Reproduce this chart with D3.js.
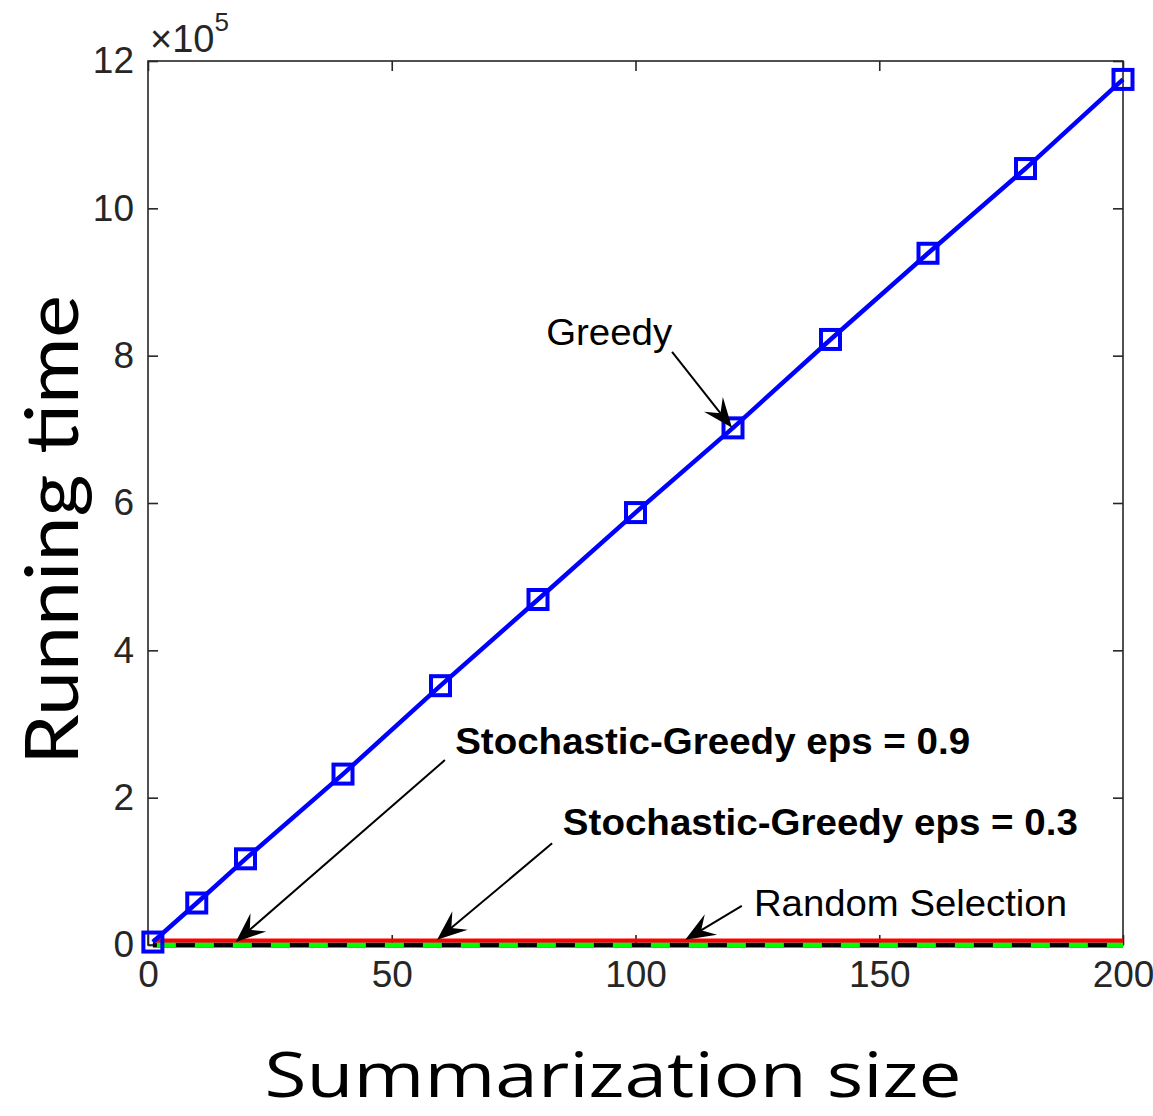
<!DOCTYPE html>
<html>
<head>
<meta charset="utf-8">
<script src="https://cdn.jsdelivr.net/npm/d3@7"></script>
<style>
  html, body { margin: 0; padding: 0; background: #fff; }
  svg { display: block; }
</style>
</head>
<body>
<svg id="chart" width="1153" height="1116"></svg>
<script>
// Running time (in units of 1e5) against summarization size
const greedySizes = [1, 10, 20, 40, 60, 80, 100, 120, 140, 160, 180, 200];
const greedyTime  = [0.04, 0.57, 1.17, 2.32, 3.52, 4.69, 5.87, 7.02, 8.22, 9.39, 10.54, 11.75];

const flatSizes   = [1, 20, 40, 60, 80, 100, 120, 140, 160, 180, 200];
const randomTime  = [0.06, 0.06, 0.06, 0.06, 0.06, 0.06, 0.06, 0.06, 0.06, 0.06, 0.06];
const stoch09Time = [0.0, 0.0, 0.0, 0.0, 0.0, 0.0, 0.0, 0.0, 0.0, 0.0, 0.0];
const stoch03Time = [0.0, 0.0, 0.0, 0.0, 0.0, 0.0, 0.0, 0.0, 0.0, 0.0, 0.0];

const xTicks = [0, 50, 100, 150, 200];
const yTicks = [0, 2, 4, 6, 8, 10, 12];

// annotation labels: text anchor point and arrow tail -> tip, in data units
const noteLabels = ["Greedy", "Stochastic-Greedy eps = 0.9", "Stochastic-Greedy eps = 0.3", "Random Selection"];
const noteTextX  = [94.6, 63.0, 85.1, 124.3];
const noteTextY  = [8.32, 2.77, 1.67, 0.57];
const noteTailX  = [107.5, 60.9, 82.9, 121.8];
const noteTailY  = [8.05, 2.51, 1.38, 0.53];
const noteTipX   = [119.8, 18.0, 59.3, 110.2];
const noteTipY   = [7.02, 0.04, 0.07, 0.07];

(function draw() {
  const svg = d3.select("#chart");
  const pLeft = 148, pRight = 1123, pTop = 61, pBottom = 945;

  const x = d3.scaleLinear().domain([0, 200]).range([pLeft, pRight]);
  const y = d3.scaleLinear().domain([0, 12]).range([pBottom, pTop]);

  const axisColor = "#262626";
  const tickFont = "'Liberation Sans', Arial, Helvetica, sans-serif";

  // frame box
  svg.append("rect")
    .attr("x", pLeft).attr("y", pTop)
    .attr("width", pRight - pLeft).attr("height", pBottom - pTop)
    .attr("fill", "none").attr("stroke", axisColor).attr("stroke-width", 1.6);

  function styleAxis(g, showLabels) {
    g.select(".domain").remove();
    g.selectAll(".tick line").attr("stroke", axisColor).attr("stroke-width", 1.6);
    g.selectAll(".tick text")
      .attr("fill", axisColor)
      .style("font-family", tickFont)
      .style("font-size", "37px");
    if (!showLabels) g.selectAll(".tick text").remove();
  }

  // bottom & top axes (ticks point inward)
  svg.append("g").attr("transform", `translate(0,${pBottom})`)
    .call(d3.axisBottom(x).tickValues(xTicks).tickSize(-10).tickPadding(16).tickFormat(d3.format("d")))
    .call(g => styleAxis(g, true));
  svg.append("g").attr("transform", `translate(0,${pTop})`)
    .call(d3.axisTop(x).tickValues(xTicks).tickSize(-10).tickFormat(""))
    .call(g => styleAxis(g, false));

  // left & right axes
  svg.append("g").attr("transform", `translate(${pLeft},0)`)
    .call(d3.axisLeft(y).tickValues(yTicks).tickSize(-10).tickPadding(14).tickFormat(d3.format("d")))
    .call(g => styleAxis(g, true));
  svg.append("g").attr("transform", `translate(${pRight},0)`)
    .call(d3.axisRight(y).tickValues(yTicks).tickSize(-10).tickFormat(""))
    .call(g => styleAxis(g, false));

  // exponent marker
  const expo = svg.append("text")
    .attr("x", x(0) + 2).attr("y", 52)
    .attr("fill", axisColor)
    .style("font-family", tickFont)
    .style("font-size", "38px");
  expo.append("tspan").text("\u00D710");
  expo.append("tspan").attr("dy", -21).style("font-size", "26px").text("5");

  const line = d3.line().x(d => x(d[0])).y(d => y(d[1]));
  const zip = (a, b) => a.map((v, i) => [v, b[i]]);

  // near-zero series: green dashes over black
  svg.append("path").datum(zip(flatSizes, stoch09Time))
    .attr("d", line).attr("fill", "none")
    .attr("stroke", "#000").attr("stroke-width", 5);
  svg.append("path").datum(zip(flatSizes, stoch03Time))
    .attr("d", line).attr("fill", "none")
    .attr("stroke", "#00ff00").attr("stroke-width", 5)
    .attr("stroke-dasharray", "19,19").attr("stroke-dashoffset", -4);
  svg.append("path").datum(zip(flatSizes, randomTime))
    .attr("d", line).attr("fill", "none")
    .attr("stroke", "#ff0000").attr("stroke-width", 4);

  // greedy line with square markers
  const greedyPts = zip(greedySizes, greedyTime);
  svg.append("path").datum(greedyPts)
    .attr("d", line).attr("fill", "none")
    .attr("stroke", "#0000ff").attr("stroke-width", 4.5);
  const sq = 19;
  svg.append("g").selectAll("rect").data(greedyPts).join("rect")
    .attr("x", d => x(d[0]) - sq / 2).attr("y", d => y(d[1]) - sq / 2)
    .attr("width", sq).attr("height", sq)
    .attr("fill", "none").attr("stroke", "#0000ff").attr("stroke-width", 4);

  // annotations
  const notes = noteLabels.map((t, i) => ({
    text: t, tx: noteTextX[i], ty: noteTextY[i],
    x0: noteTailX[i], y0: noteTailY[i], x1: noteTipX[i], y1: noteTipY[i]
  }));

  function arrowHead(x0, y0, x1, y1) {
    const L = 30, W = 12, notch = 0.62;
    const ang = Math.atan2(y1 - y0, x1 - x0);
    const ux = Math.cos(ang), uy = Math.sin(ang);
    const px = -uy, py = ux;
    const bx = x1 - ux * L, by = y1 - uy * L;
    const nx = x1 - ux * L * notch, ny = y1 - uy * L * notch;
    return `M${x1},${y1}L${bx + px * W},${by + py * W}L${nx},${ny}L${bx - px * W},${by - py * W}Z`;
  }

  const ag = svg.append("g");
  notes.forEach(n => {
    const X0 = x(n.x0), Y0 = y(n.y0), X1 = x(n.x1), Y1 = y(n.y1);
    const ang = Math.atan2(Y1 - Y0, X1 - X0);
    ag.append("line")
      .attr("x1", X0).attr("y1", Y0)
      .attr("x2", X1 - Math.cos(ang) * 14).attr("y2", Y1 - Math.sin(ang) * 14)
      .attr("stroke", "#000").attr("stroke-width", 2);
    ag.append("path").attr("d", arrowHead(X0, Y0, X1, Y1)).attr("fill", "#000");
  });

  // annotation texts
  const tg = svg.append("g").style("font-family", tickFont).attr("fill", "#000");
  tg.append("text").datum(notes[0])
    .attr("x", d => x(d.tx)).attr("y", d => y(d.ty))
    .attr("text-anchor", "middle").attr("dy", "0.35em")
    .style("font-size", "36px")
    .attr("textLength", 126).attr("lengthAdjust", "spacingAndGlyphs")
    .text(d => d.text);
  tg.selectAll("text.bold").data(notes.slice(1, 3)).join("text")
    .attr("class", "bold")
    .attr("x", d => x(d.tx)).attr("y", d => y(d.ty))
    .attr("dy", "0.35em")
    .style("font-size", "37px").style("font-weight", "bold")
    .attr("textLength", 515).attr("lengthAdjust", "spacingAndGlyphs")
    .text(d => d.text);
  tg.append("text").datum(notes[3])
    .attr("x", d => x(d.tx)).attr("y", d => y(d.ty))
    .attr("dy", "0.35em")
    .style("font-size", "36px")
    .attr("textLength", 313).attr("lengthAdjust", "spacingAndGlyphs")
    .text(d => d.text);

  // axis titles
  svg.append("text")
    .attr("transform", "translate(78,530) rotate(-90)")
    .attr("text-anchor", "middle")
    .style("font-family", "Lato, 'Noto Sans', sans-serif")
    .style("font-size", "74px")
    .attr("textLength", 470).attr("lengthAdjust", "spacingAndGlyphs")
    .attr("fill", "#000")
    .text("Running time");

  svg.append("text")
    .attr("x", 613).attr("y", 1097)
    .attr("text-anchor", "middle")
    .style("font-family", "'Open Sans', 'Noto Sans', sans-serif")
    .style("font-size", "62px")
    .attr("textLength", 697).attr("lengthAdjust", "spacingAndGlyphs")
    .attr("fill", "#000")
    .text("Summarization size");
})();
</script>
</body>
</html>
